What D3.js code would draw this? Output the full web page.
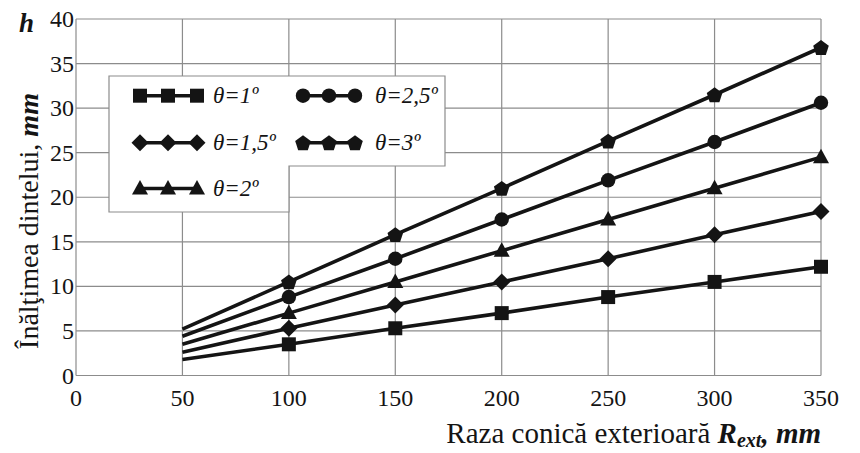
<!DOCTYPE html>
<html><head><meta charset="utf-8">
<script src="https://cdn.jsdelivr.net/npm/d3@7"></script>
<style>
html,body{margin:0;padding:0;background:#fff;}
svg{display:block;}
svg text{font-family:"Liberation Serif",serif;}
</style></head>
<body>
<svg id="chart" width="860" height="453"></svg>
<script>
// ---- data ----
const radii = [50, 100, 150, 200, 250, 300, 350];
const xTicks = [0, 50, 100, 150, 200, 250, 300, 350];
const yTicks = [0, 5, 10, 15, 20, 25, 30, 35, 40];
const seriesNames = ["θ=1º", "θ=1,5º", "θ=2º", "θ=2,5º", "θ=3º"];
const seriesShapes = ["square", "diamond", "triangle", "circle", "pentagon"];
const h1  = [1.8, 3.5, 5.3, 7.0, 8.8, 10.5, 12.2];
const h15 = [2.6, 5.3, 7.9, 10.5, 13.1, 15.8, 18.4];
const h2  = [3.5, 7.0, 10.5, 14.0, 17.5, 21.0, 24.5];
const h25 = [4.4, 8.8, 13.1, 17.5, 21.9, 26.2, 30.6];
const h3  = [5.2, 10.5, 15.8, 21.0, 26.3, 31.5, 36.8];
const seriesValues = [h1, h15, h2, h25, h3];
const markerFrom = 100; // markers are drawn from this radius on

// ---- layout ----
const FONT = "'Liberation Serif', 'Times New Roman', serif";
const svg = d3.select("#chart");
const L = 76, R = 821, T = 19, B = 375.5;
const x = d3.scaleLinear().domain([0, 350]).range([L, R]);
const y = d3.scaleLinear().domain([0, 40]).range([B, T]);
const ink = "#141414", gridC = "#8c8c8c";

function shapePath(shape) {
  const p = d3.path();
  if (shape === "square") { p.rect(-7, -7, 14, 14); }
  else if (shape === "circle") { p.arc(0, 0, 7.2, 0, 2 * Math.PI); }
  else if (shape === "diamond") { p.moveTo(0, -8.5); p.lineTo(8.5, 0); p.lineTo(0, 8.5); p.lineTo(-8.5, 0); p.closePath(); }
  else if (shape === "triangle") { p.moveTo(0, -8.5); p.lineTo(8, 6); p.lineTo(-8, 6); p.closePath(); }
  else if (shape === "pentagon") {
    for (let i = 0; i < 5; i++) {
      const a = -Math.PI / 2 + i * 2 * Math.PI / 5;
      const px = 8.2 * Math.cos(a), py = 8.2 * Math.sin(a) + 0.8;
      if (i === 0) p.moveTo(px, py); else p.lineTo(px, py);
    }
    p.closePath();
  }
  return p.toString();
}

// grid
const grid = svg.append("g");
grid.selectAll("line.v").data(xTicks).join("line")
  .attr("x1", d => x(d)).attr("x2", d => x(d)).attr("y1", T).attr("y2", B)
  .attr("stroke", gridC).attr("stroke-width", 1.2);
grid.selectAll("line.h").data(yTicks).join("line")
  .attr("y1", d => y(d)).attr("y2", d => y(d)).attr("x1", L).attr("x2", R)
  .attr("stroke", gridC).attr("stroke-width", 1.2);

// legend box (L-shaped) drawn over grid
const legendG = svg.append("g");
legendG.append("path")
  .attr("d", "M109,76 L445,76 L445,166 L289,166 L289,212 L109,212 Z")
  .attr("fill", "#fff").attr("stroke", gridC).attr("stroke-width", 1.2);

// series
const line = d3.line().x(d => x(d[0])).y(d => y(d[1]));
seriesValues.forEach((vals, i) => {
  const pts = radii.map((r, j) => [r, vals[j]]);
  svg.append("path").attr("d", line(pts)).attr("fill", "none")
    .attr("stroke", ink).attr("stroke-width", 3.6).attr("stroke-linejoin", "round");
  svg.append("g").selectAll("path").data(pts.filter(p => p[0] >= markerFrom)).join("path")
    .attr("transform", d => `translate(${x(d[0])},${y(d[1])})`)
    .attr("d", shapePath(seriesShapes[i])).attr("fill", ink);
});

// legend entries
const legPos = [
  {mx: [140, 168, 197], my: 95.7, tx: 213},
  {mx: [140, 168, 197], my: 142.7, tx: 213},
  {mx: [140, 168, 197], my: 188.5, tx: 213},
  {mx: [303, 329, 355], my: 95.7, tx: 375},
  {mx: [303, 329, 355], my: 142.7, tx: 375}
];
seriesNames.forEach((name, i) => {
  const p = legPos[i];
  legendG.append("line").attr("x1", p.mx[0]).attr("x2", p.mx[2]).attr("y1", p.my).attr("y2", p.my)
    .attr("stroke", ink).attr("stroke-width", 3.6);
  p.mx.forEach(mx => legendG.append("path").attr("transform", `translate(${mx},${p.my})`)
    .attr("d", shapePath(seriesShapes[i])).attr("fill", ink));
  legendG.append("text").attr("x", p.tx).attr("y", p.my + 7).attr("font-family", FONT)
    .attr("font-size", 23).attr("font-style", "italic").attr("fill", ink).text(name);
});

// axis ticks labels
svg.append("g").selectAll("text").data(xTicks).join("text")
  .attr("x", d => x(d)).attr("y", 406).attr("text-anchor", "middle").attr("font-family", FONT)
  .attr("font-size", 24).attr("fill", ink).text(d => d);
svg.append("g").selectAll("text").data(yTicks).join("text")
  .attr("x", 74).attr("y", d => y(d) + 8).attr("text-anchor", "end").attr("font-family", FONT)
  .attr("font-size", 24).attr("fill", ink).text(d => d);

// h label
svg.append("text").attr("x", 19).attr("y", 32).attr("font-size", 27).attr("font-family", FONT)
  .attr("font-weight", "bold").attr("font-style", "italic").attr("fill", ink).text("h");

// titles: one text element each, built from tspans, then positioned by measured width
function buildText(pieces, size) {
  const t = svg.append("text").attr("x", 0).attr("y", 0).attr("font-family", FONT)
    .attr("font-size", size).attr("fill", ink);
  pieces.forEach(pc => {
    const s = t.append("tspan").text(pc.text);
    if (pc.size) s.attr("font-size", pc.size);
    if (pc.bold) s.attr("font-weight", "bold");
    if (pc.italic) s.attr("font-style", "italic");
    if (pc.dy) s.attr("dy", pc.dy);
  });
  return t;
}
const yTitle = buildText([
  {text: "Înălţimea dintelui,\u00A0"},
  {text: "mm", bold: true, italic: true}
], 28);
const yW = yTitle.node().getComputedTextLength();
yTitle.attr("transform", `translate(38,${221 + yW / 2}) rotate(-90)`);

const xTitle = buildText([
  {text: "Raza conică exterioară\u00A0"},
  {text: "R", bold: true, italic: true},
  {text: "ext", size: 20, bold: true, italic: true, dy: 4},
  {text: ",\u00A0mm", bold: true, italic: true, dy: -4}
], 29);
const xW = xTitle.node().getComputedTextLength();
xTitle.attr("transform", `translate(${821 - xW},443)`);
</script>
</body></html>
